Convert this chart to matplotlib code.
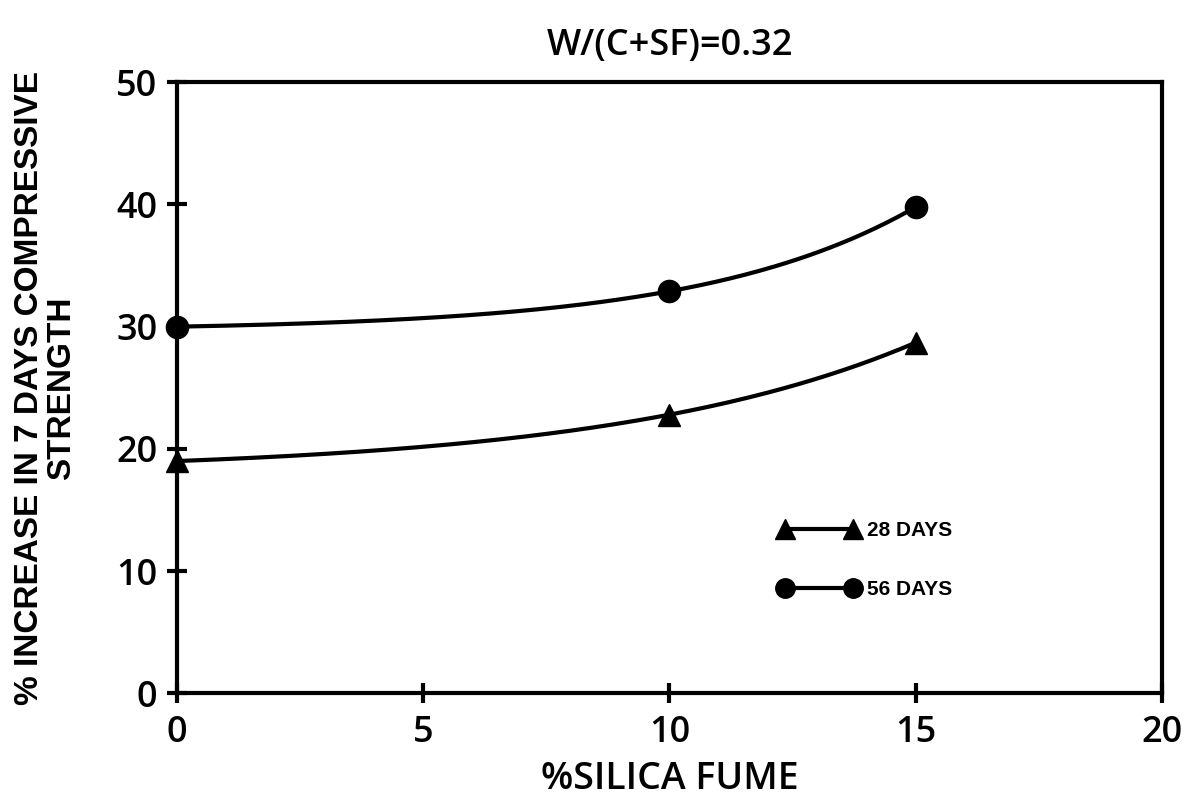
import numpy as np
import matplotlib
matplotlib.use("Agg")
import matplotlib.pyplot as plt
from matplotlib.lines import Line2D

# data
silica_fume = [0, 10, 15]
days28 = [19.0, 22.8, 28.7]
days56 = [30.0, 32.9, 39.8]

title = "W/(C+SF)=0.32"
xlabel = "%SILICA FUME"
ylabel = "% INCREASE IN 7 DAYS COMPRESSIVE\nSTRENGTH"
xticks = [0, 5, 10, 15, 20]
yticks = [0, 10, 20, 30, 40, 50]


def smooth_curve(x, y, n=200):
    # fit y = a + b*exp(k*x) through the three points (hand-drawn look)
    x = np.asarray(x, float)
    y = np.asarray(y, float)
    r = (y[2] - y[0]) / (y[1] - y[0])
    f = lambda k: (np.exp(k * x[2]) - np.exp(k * x[0])) / (np.exp(k * x[1]) - np.exp(k * x[0])) - r
    lo, hi = 1e-5, 2.0
    for _ in range(100):
        mid = 0.5 * (lo + hi)
        if f(lo) * f(mid) <= 0:
            hi = mid
        else:
            lo = mid
    k = 0.5 * (lo + hi)
    b = (y[1] - y[0]) / (np.exp(k * x[1]) - np.exp(k * x[0]))
    a = y[0] - b * np.exp(k * x[0])
    xs = np.linspace(x[0], x[-1], n)
    return xs, a + b * np.exp(k * xs)


main_font = 'Open Sans'

fig = plt.figure(figsize=(11.86, 8.07), dpi=100)
ax = fig.add_axes([0.149, 0.141, 0.831, 0.757])

lw = 3.0
for vals, mk in [(days28, '^'), (days56, 'o')]:
    xs, ys = smooth_curve(silica_fume, vals)
    ax.plot(xs, ys, color='black', linewidth=lw, solid_capstyle='round')
    ax.plot(silica_fume, vals, linestyle='none', marker=mk, markersize=16,
            color='black', clip_on=False)

ax.set_xlim(0, 20)
ax.set_ylim(0, 50)
ax.set_xticks(xticks)
ax.set_yticks(yticks)
for s in ax.spines.values():
    s.set_linewidth(3)
ax.tick_params(direction='inout', length=14, width=3, labelsize=26)
ax.tick_params(axis='x', pad=9)
ax.tick_params(axis='y', pad=7)
for lab in ax.get_xticklabels() + ax.get_yticklabels():
    lab.set_family(main_font)
    lab.set_weight('semibold')

ax.set_title(title, fontsize=26, family=main_font, weight='semibold', pad=20)
ax.set_xlabel(xlabel, fontsize=27, family=main_font, weight='semibold', labelpad=6)
ax.set_ylabel(ylabel, fontsize=24, family='Liberation Sans', weight='bold',
              linespacing=1.05, labelpad=28)

handles = [
    Line2D([], [], color='black', linewidth=lw, marker='^', markersize=14),
    Line2D([], [], color='black', linewidth=lw, marker='o', markersize=14),
]
ax.legend(handles, ["28 DAYS", "56 DAYS"], numpoints=2, frameon=False,
          loc='center left', bbox_to_anchor=(0.6, 0.218), borderpad=0,
          handlelength=3.9, handletextpad=0.35, labelspacing=1.9,
          prop={'family': 'Liberation Sans', 'weight': 'bold', 'size': 15})

fig.savefig("out.png", dpi=100)
